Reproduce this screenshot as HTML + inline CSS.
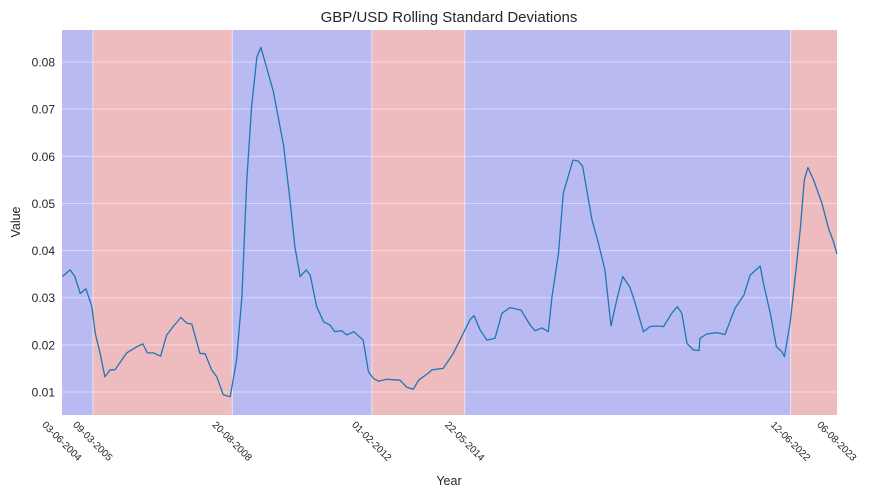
<!DOCTYPE html>
<html><head><meta charset="utf-8"><style>
body{margin:0;background:#fff;}
svg{display:block;font-family:"Liberation Sans",Arial,sans-serif;}
</style></head><body>
<svg id="chart" width="870" height="497">
<text x="449" y="22" text-anchor="middle" font-size="15" fill="#262626">GBP/USD Rolling Standard Deviations</text>
<text x="20" y="222" text-anchor="middle" font-size="12.5" fill="#262626" transform="rotate(-90 20 222)">Value</text>
<text x="449" y="485" text-anchor="middle" font-size="12.5" fill="#262626">Year</text>
<g id="bands"></g>
<g id="grid"></g>
<g id="yticks"></g>
<g id="xticks"></g>
<path id="line" fill="none" stroke="#1f77b4" stroke-width="1.3" stroke-linejoin="round"></path>
</svg>
<script>
const years=[2004.43,2004.62,2004.74,2004.87,2005.01,2005.16,2005.24,2005.36,2005.48,2005.61,2005.73,2006.02,2006.27,2006.42,2006.53,2006.68,2006.86,2007.01,2007.17,2007.36,2007.51,2007.63,2007.83,2007.96,2008.12,2008.25,2008.41,2008.58,2008.74,2008.87,2008.99,2009.11,2009.24,2009.34,2009.44,2009.65,2009.90,2010.06,2010.18,2010.31,2010.46,2010.56,2010.72,2010.89,2011.05,2011.17,2011.34,2011.46,2011.64,2011.79,2011.87,2012.00,2012.12,2012.25,2012.45,2012.78,2012.95,2013.11,2013.24,2013.48,2013.57,2013.85,2014.10,2014.35,2014.51,2014.61,2014.76,2014.93,2015.13,2015.30,2015.50,2015.77,2016.00,2016.12,2016.29,2016.45,2016.54,2016.70,2016.82,2017.06,2017.19,2017.30,2017.53,2017.69,2017.85,2018.00,2018.14,2018.29,2018.47,2018.60,2018.80,2018.97,2019.13,2019.30,2019.50,2019.64,2019.75,2019.88,2020.04,2020.18,2020.20,2020.37,2020.62,2020.82,2021.07,2021.29,2021.44,2021.69,2021.77,2021.94,2022.09,2022.23,2022.29,2022.43,2022.56,2022.68,2022.78,2022.87,2023.01,2023.22,2023.38,2023.50,2023.59];
const values=[0.0345,0.0359,0.0345,0.0309,0.0319,0.0281,0.0225,0.0183,0.0132,0.0147,0.0147,0.0183,0.0196,0.0202,0.0183,0.0183,0.0176,0.0221,0.0239,0.0258,0.0246,0.0244,0.0182,0.0181,0.0147,0.0132,0.0094,0.0090,0.0168,0.0302,0.0550,0.0705,0.0811,0.0831,0.0801,0.0737,0.0624,0.0507,0.0408,0.0345,0.0359,0.0348,0.0281,0.0249,0.0242,0.0228,0.0230,0.0221,0.0228,0.0216,0.0210,0.0143,0.0129,0.0123,0.0127,0.0125,0.0110,0.0106,0.0125,0.0140,0.0147,0.0150,0.0182,0.0225,0.0253,0.0262,0.0232,0.0210,0.0214,0.0267,0.0279,0.0274,0.0242,0.0230,0.0236,0.0228,0.0302,0.0394,0.0522,0.0592,0.0590,0.0578,0.0465,0.0415,0.0359,0.0240,0.0295,0.0345,0.0322,0.0288,0.0228,0.0239,0.0240,0.0239,0.0267,0.0281,0.0267,0.0203,0.0189,0.0188,0.0214,0.0223,0.0226,0.0222,0.0278,0.0306,0.0348,0.0367,0.0331,0.0267,0.0196,0.0185,0.0175,0.0246,0.0348,0.0444,0.0550,0.0576,0.0550,0.0500,0.0447,0.0419,0.0393];
const tickDates=[2004.42,2005.186,2008.634,2012.085,2014.386,2022.444,2023.59];
const tickLabels=["03-06-2004","09-03-2005","20-08-2008","01-02-2012","22-05-2014","12-06-2022","06-08-2023"];
const regimes=["low","high","low","high","low","high"];
const yTicks=[0.01,0.02,0.03,0.04,0.05,0.06,0.07,0.08];

const X0=62,X1=837,Y0=415,Y1=30;
const dMin=tickDates[0],dMax=tickDates[tickDates.length-1];
const vMin=0.00512,vMax=0.0868;
const xs=d=>X0+(d-dMin)/(dMax-dMin)*(X1-X0);
const ys=v=>Y0-(v-vMin)/(vMax-vMin)*(Y0-Y1);
const NS="http://www.w3.org/2000/svg";
function mk(t,a,p){const e=document.createElementNS(NS,t);for(const k in a)e.setAttribute(k,a[k]);p.appendChild(e);return e;}

const bands=document.getElementById('bands');
for(let i=0;i<regimes.length;i++){
  const x1=xs(tickDates[i]),x2=xs(tickDates[i+1]);
  const r=mk('rect',{x:x1,y:Y1,width:x2-x1,height:Y0-Y1,fill:regimes[i]==='low'?'#b9baf2':'#eebbbf'},bands);
  
  
}
const grid=document.getElementById('grid'),yt=document.getElementById('yticks');
yTicks.forEach(v=>{
  const y=ys(v);
  const l=mk('line',{x1:X0,x2:X1,y1:y,y2:y,stroke:'#ffffff','stroke-opacity':0.45,'stroke-width':1},grid);
  
  
  const t=mk('text',{x:55,y:y+4.5,'text-anchor':'end','font-size':12,fill:'#262626'},yt);
  t.textContent=v.toFixed(2);
  
  
});
const xt=document.getElementById('xticks');
tickDates.forEach((d,i)=>{
  const x=xs(d);
  if(i>0&&i<tickDates.length-1){
    const l=mk('line',{x1:x,x2:x,y1:Y1,y2:Y0,stroke:'#ffffff','stroke-opacity':0.5,'stroke-width':1},grid);
    
    
  }
  const cy=441;
  const t=mk('text',{x:x,y:cy+3.5,'text-anchor':'middle','font-size':10,fill:'#262626',transform:`rotate(45 ${x} ${cy})`},xt);
  t.textContent=tickLabels[i];
  
  
});
document.getElementById('line').setAttribute('d',years.map((d,i)=>(i?'L':'M')+xs(d).toFixed(1)+','+ys(values[i]).toFixed(1)).join(''));
</script>
</body></html>
